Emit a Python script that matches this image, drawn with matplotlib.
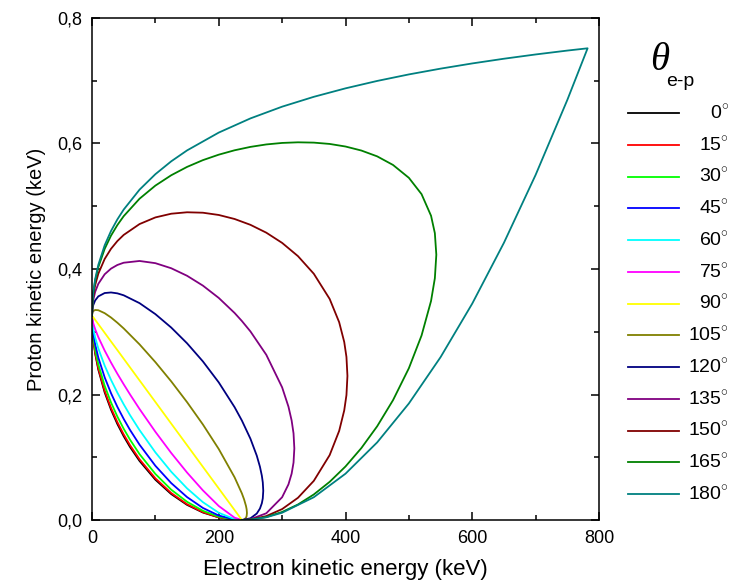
import matplotlib
matplotlib.use("Agg")
import matplotlib.pyplot as plt
from matplotlib.lines import Line2D
from matplotlib.ticker import MultipleLocator, FuncFormatter

plt.rcParams['font.family'] = ['Liberation Sans', 'DejaVu Sans']
plt.rcParams['mathtext.fontset'] = 'custom'
plt.rcParams['mathtext.rm'] = 'Liberation Sans'

# electron energy grid (keV) shared by the curves with angle <= 90 deg
te_low = [0, 1, 2, 5, 10, 20, 30, 40, 50, 60, 75, 100, 125, 150, 175, 200, 225, 236.5]

tp_000 = [0.3259, 0.2990, 0.2877, 0.2651, 0.2395, 0.2033, 0.1758, 0.1530, 0.1335, 0.1163,
          0.0941, 0.0642, 0.0413, 0.0241, 0.0119, 0.0041, 0.0004, 0]
tp_015 = [0.3259, 0.2998, 0.2888, 0.2668, 0.2417, 0.2059, 0.1786, 0.1560, 0.1364, 0.1192,
          0.0967, 0.0664, 0.0430, 0.0252, 0.0125, 0.0043, 0.0004, 0]
tp_030 = [0.3259, 0.3023, 0.2922, 0.2718, 0.2481, 0.2139, 0.1873, 0.1649, 0.1454, 0.1280,
          0.1050, 0.0734, 0.0483, 0.0290, 0.0147, 0.0052, 0.0005, 0]
tp_045 = [0.3259, 0.3062, 0.2976, 0.2799, 0.2587, 0.2273, 0.2021, 0.1804, 0.1611, 0.1435,
          0.1200, 0.0864, 0.0588, 0.0365, 0.0192, 0.0071, 0.0008, 0]
tp_060 = [0.3259, 0.3115, 0.3049, 0.2908, 0.2733, 0.2460, 0.2233, 0.2030, 0.1844, 0.1671,
          0.1433, 0.1078, 0.0769, 0.0504, 0.0284, 0.0115, 0.0014, 0]
tp_075 = [0.3259, 0.3177, 0.3135, 0.3041, 0.2914, 0.2700, 0.2509, 0.2331, 0.2163, 0.2001,
          0.1769, 0.1406, 0.1068, 0.0756, 0.0472, 0.0223, 0.0037, 0]
tp_090 = [0.3259, 0.3245, 0.3231, 0.3190, 0.3121, 0.2983, 0.2845, 0.2708, 0.2570, 0.2432,
          0.2225, 0.1881, 0.1536, 0.1192, 0.0847, 0.0503, 0.0158, 0]

# closed loops for angle > 90 deg (upper branch out, lower branch back)
te_105 = [0, 1, 2, 5, 10, 20, 30, 40, 50, 75, 100, 125, 150, 175, 200, 225, 236.5, 240, 243, 244,
          244.5, 244, 243, 240, 236.5]
tp_105 = [0.3259, 0.3315, 0.3330, 0.3347, 0.3343, 0.3296, 0.3227, 0.3144, 0.3053, 0.2799, 0.2516,
          0.2209, 0.1878, 0.1522, 0.1131, 0.0680, 0.0424, 0.0328, 0.0223, 0.0171,
          0.0111, 0.0063, 0.0036, 0.0007, 0]

te_120 = [0, 1, 2, 5, 10, 20, 30, 40, 50, 75, 100, 125, 150, 175, 200, 225, 236.5, 250, 260, 265,
          268, 269.5, 270.24, 269.5, 268, 265, 260, 250, 236.5]
tp_120 = [0.3259, 0.3381, 0.3425, 0.3499, 0.3564, 0.3617, 0.3626, 0.3612, 0.3581, 0.3456, 0.3281,
          0.3067, 0.2816, 0.2527, 0.2193, 0.1798, 0.1585, 0.1295, 0.1025, 0.0849,
          0.0706, 0.0599, 0.0465, 0.0346, 0.0267, 0.0182, 0.0103, 0.0027, 0]

te_135 = [0, 1, 2, 5, 10, 20, 30, 40, 50, 75, 100, 125, 150, 175, 200, 225, 236.5, 250, 275, 300,
          310, 315, 318, 319.27, 318, 315, 310, 300, 275, 250, 236.5]
tp_135 = [0.3259, 0.3439, 0.3508, 0.3636, 0.3764, 0.3916, 0.4006, 0.4064, 0.4100, 0.4128, 0.4093,
          0.4012, 0.3892, 0.3735, 0.3539, 0.3299, 0.3171, 0.3005, 0.2633, 0.2114,
          0.1806, 0.1586, 0.1380, 0.1141, 0.0915, 0.0738, 0.0568, 0.0363, 0.0107, 0.0012, 0]

te_150 = [0, 1, 2, 5, 10, 20, 30, 40, 50, 75, 100, 125, 150, 175, 200, 225, 250, 275, 300, 325,
          350, 375, 390, 398, 401.5, 403.06, 401.5, 398, 390, 375, 350, 325, 300, 275, 250, 236.5]
tp_150 = [0.3259, 0.3484, 0.3573, 0.3744, 0.3926, 0.4160, 0.4322, 0.4445, 0.4543, 0.4716, 0.4822,
          0.4881, 0.4904, 0.4897, 0.4861, 0.4797, 0.4704, 0.4579, 0.4416, 0.4205,
          0.3924, 0.3523, 0.3152, 0.2837, 0.2598, 0.2296, 0.1991, 0.1747, 0.1420, 0.1034,
          0.0624, 0.0354, 0.0174, 0.0062, 0.0007, 0]

te_165 = [0, 1, 2, 5, 10, 20, 30, 40, 50, 75, 100, 125, 150, 175, 200, 225, 250, 275, 300, 325,
          350, 375, 400, 425, 450, 475, 500, 520, 535, 541, 543.31,
          541, 535, 520, 500, 475, 450, 425, 400, 375, 350, 325, 300, 275, 250, 236.5]
tp_165 = [0.3259, 0.3512, 0.3615, 0.3814, 0.4031, 0.4321, 0.4532, 0.4700, 0.4842, 0.5120,
          0.5329, 0.5494, 0.5627, 0.5735, 0.5822, 0.5892, 0.5946, 0.5985, 0.6009, 0.6019,
          0.6014, 0.5993, 0.5952, 0.5888, 0.5795, 0.5658, 0.5453, 0.5193, 0.4848, 0.4571, 0.4228,
          0.3853, 0.3491, 0.2940, 0.2419, 0.1910, 0.1494, 0.1146, 0.0853, 0.0608, 0.0407,
          0.0247, 0.0128, 0.0047, 0.0006, 0]

te_180 = [0, 1, 2, 5, 10, 20, 30, 40, 50, 75, 100, 125, 150, 200, 250, 300, 350, 400, 450, 500,
          550, 600, 650, 700, 750, 782,
          750, 700, 650, 600, 550, 500, 450, 400, 350, 300, 275, 250, 236.5]
tp_180 = [0.3259, 0.3522, 0.3629, 0.3838, 0.4067, 0.4378, 0.4606, 0.4790, 0.4947, 0.5264,
          0.5511, 0.5716, 0.5890, 0.6174, 0.6400, 0.6587, 0.6744, 0.6879, 0.6997, 0.7101,
          0.7193, 0.7276, 0.7351, 0.7419, 0.7481, 0.7517,
          0.6694, 0.5500, 0.4418, 0.3449, 0.2595, 0.1857, 0.1237, 0.0738, 0.0363, 0.0116,
          0.0043, 0.0005, 0]

angles = [0, 15, 30, 45, 60, 75, 90, 105, 120, 135, 150, 165, 180]
curves = [(te_low, tp_000), (te_low, tp_015), (te_low, tp_030), (te_low, tp_045),
          (te_low, tp_060), (te_low, tp_075), (te_low, tp_090), (te_105, tp_105),
          (te_120, tp_120), (te_135, tp_135), (te_150, tp_150), (te_165, tp_165),
          (te_180, tp_180)]
colors = ['#000000', '#FF0000', '#00FF00', '#0000FF', '#00FFFF', '#FF00FF', '#FFFF00',
          '#808000', '#000080', '#800080', '#800000', '#008000', '#008080']

W, H = 733, 584
fig = plt.figure(figsize=(W / 100, H / 100), dpi=100)
ax = fig.add_axes([92 / W, 1 - 520 / H, (599 - 92) / W, (520 - 18) / H])

for (x, y), c in zip(curves, colors):
    ax.plot(x, y, color=c, lw=1.3)

ax.set_xlim(0, 800)
ax.set_ylim(0, 0.8)
ax.xaxis.set_major_locator(MultipleLocator(200))
ax.xaxis.set_minor_locator(MultipleLocator(100))
ax.yaxis.set_major_locator(MultipleLocator(0.2))
ax.yaxis.set_minor_locator(MultipleLocator(0.1))
ax.yaxis.set_major_formatter(FuncFormatter(lambda v, p: f"{v:.1f}".replace('.', ',')))
ax.tick_params(which='both', direction='in', top=True, right=True, width=1.1,
               labelsize=13, pad=7)
ax.tick_params(which='major', length=6)
ax.tick_params(which='minor', length=3.5)
for s in ax.spines.values():
    s.set_linewidth(1.1)

ax.set_xlabel('Electron kinetic energy (keV)', fontsize=16, labelpad=9)
ax.set_ylabel('Proton kinetic energy (keV)', fontsize=14.5, labelpad=8)

# legend drawn by hand so labels are right aligned
fig.text(660 / W, 1 - 61 / H, '\u03b8', fontsize=28, family='Liberation Serif',
         style='italic', ha='center', va='center')
fig.text(680 / W, 1 - 81 / H, 'e-p', fontsize=14, ha='center', va='center')
for i, (a, c) in enumerate(zip(angles, colors)):
    yf = 1 - (113 + i * 31.75) / H
    fig.add_artist(Line2D([628 / W, 679 / W], [yf, yf], transform=fig.transFigure,
                          color=c, lw=1.3))
    fig.text(729 / W, yf, f"{a}$^{{\\circ}}$", fontsize=14, ha='right', va='center')

fig.savefig('out.png', dpi=100)
